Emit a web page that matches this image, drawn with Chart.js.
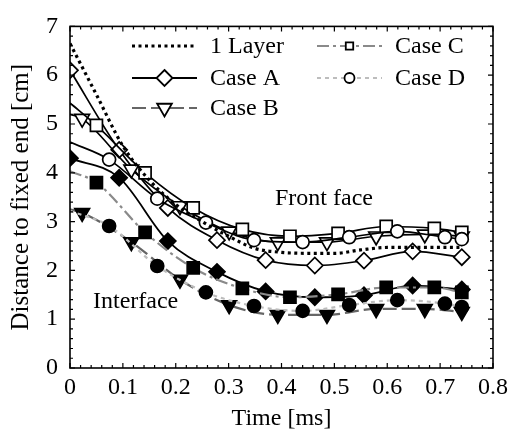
<!DOCTYPE html>
<html><head><meta charset="utf-8">
<script src="https://cdn.jsdelivr.net/npm/chart.js@4"></script>
<style>html,body{margin:0;padding:0;background:#fff}</style>
</head><body>
<canvas id="c" width="518" height="429"></canvas>
<script>
// ---- data ----
const xTickValues = [0, 0.1, 0.2, 0.3, 0.4, 0.5, 0.6, 0.7, 0.8];
const yTickValues = [0, 1, 2, 3, 4, 5, 6, 7];
const seriesNames = ['1 Layer', 'Case A', 'Case B', 'Case C', 'Case D'];

const tLayer = [0, 0.05, 0.1, 0.15, 0.2, 0.25, 0.3, 0.35, 0.4, 0.45, 0.5, 0.55, 0.6, 0.65, 0.7, 0.74];
const frontLayer = [6.65, 5.6, 4.55, 3.85, 3.35, 3.0, 2.7, 2.45, 2.37, 2.35, 2.35, 2.42, 2.47, 2.47, 2.47, 2.47];

const tA = [0, 0.093, 0.185, 0.278, 0.37, 0.463, 0.556, 0.648, 0.741];
const frontA = [6.1, 4.47, 3.28, 2.62, 2.21, 2.1, 2.2, 2.39, 2.27];
const interA = [4.3, 3.9, 2.6, 1.97, 1.57, 1.45, 1.49, 1.69, 1.61];

const tB = [0, 0.023, 0.116, 0.208, 0.301, 0.393, 0.486, 0.579, 0.671, 0.741];
const frontB = [5.2, 5.11, 4.07, 3.32, 2.8, 2.58, 2.58, 2.7, 2.74, 2.7];
const interB = [3.25, 3.18, 2.58, 1.81, 1.29, 1.09, 1.09, 1.21, 1.21, 1.15];

const tC = [0, 0.05, 0.142, 0.233, 0.326, 0.416, 0.507, 0.598, 0.689, 0.741];
const frontC = [5.43, 4.97, 4.0, 3.28, 2.84, 2.7, 2.76, 2.9, 2.86, 2.78];
const interC = [4.03, 3.8, 2.78, 2.05, 1.63, 1.45, 1.51, 1.65, 1.65, 1.55];

const tD = [0, 0.074, 0.165, 0.257, 0.348, 0.44, 0.528, 0.619, 0.709, 0.741];
const frontD = [4.63, 4.27, 3.47, 2.98, 2.62, 2.58, 2.68, 2.8, 2.68, 2.64];
const interD = [3.22, 2.91, 2.09, 1.55, 1.27, 1.17, 1.29, 1.39, 1.32, 1.25];

// ---- helpers ----
const FONT = 'Liberation Serif, Times New Roman, serif';
function pts(t, v) { return t.map((x, i) => ({ x: x, y: v[i] })); }
function radii(n, r, skipFirst) { return Array.from({ length: n }, (_, i) => (skipFirst && i === 0) ? 0 : r); }

const styles = {
  layer: { color: '#000', width: 3.2, dash: [3, 3.5] },
  A: { color: '#000', width: 1.8, dash: [] },
  B: { color: '#666', width: 2.2, dash: [14, 5] },
  C: { color: '#8a8a8a', width: 2.2, dash: [12, 4, 3, 4] },
  D: { color: '#bdbdbd', width: 2.2, dash: [4, 4] }
};

function lineDS(label, t, v, opt) {
  return Object.assign({
    label: label,
    data: pts(t, v),
    borderColor: '#000',
    borderWidth: 1.7,
    borderDash: [],
    cubicInterpolationMode: 'monotone',
    pointBorderColor: '#000',
    pointBorderWidth: 1.7,
    pointBackgroundColor: '#fff',
    pointRadius: 0,
    pointHoverRadius: 0,
    fill: false
  }, opt);
}

const datasets = [
  // interface curves (filled markers)
  lineDS('Case D interface', tD, interD, { borderColor: styles.D.color, borderWidth: styles.D.width, borderDash: styles.D.dash,
    pointStyle: 'circle', pointRadius: radii(tD.length, 6.5, true), pointBackgroundColor: '#000' }),
  lineDS('Case B interface', tB, interB, { borderColor: styles.B.color, borderWidth: styles.B.width, borderDash: styles.B.dash,
    pointStyle: 'triangle', pointRotation: 180, pointRadius: radii(tB.length, 8.5, true), pointBackgroundColor: '#000' }),
  lineDS('Case C interface', tC, interC, { borderColor: styles.C.color, borderWidth: styles.C.width, borderDash: styles.C.dash,
    pointStyle: 'rect', pointRadius: radii(tC.length, 8.5, true), pointBackgroundColor: '#000' }),
  lineDS('Case A interface', tA, interA, { borderColor: '#000', borderWidth: 1.8,
    pointStyle: 'rectRot', pointRadius: radii(tA.length, 8, false), pointBackgroundColor: '#000' }),
  // front face curves (open markers)
  lineDS('1 Layer front', tLayer, frontLayer, { borderColor: '#000', borderWidth: styles.layer.width, borderDash: styles.layer.dash }),
  lineDS('Case D front', tD, frontD, { pointStyle: 'circle', pointRadius: radii(tD.length, 6.5, true) }),
  lineDS('Case C front', tC, frontC, { pointStyle: 'rect', pointRadius: radii(tC.length, 8.5, true) }),
  lineDS('Case B front', tB, frontB, { pointStyle: 'triangle', pointRotation: 180, pointRadius: radii(tB.length, 8.5, true) }),
  lineDS('Case A front', tA, frontA, { pointStyle: 'rectRot', pointRadius: radii(tA.length, 8, false) })
];

function drawMarker(ctx, kind, x, y, r, fill) {
  ctx.save();
  ctx.setLineDash([]);
  ctx.lineWidth = 1.8;
  ctx.strokeStyle = '#000';
  ctx.fillStyle = fill;
  ctx.beginPath();
  if (kind === 'diamond') {
    ctx.moveTo(x, y - r); ctx.lineTo(x + r, y); ctx.lineTo(x, y + r); ctx.lineTo(x - r, y); ctx.closePath();
  } else if (kind === 'tri') {
    const h = r * Math.sin(Math.PI / 3);
    ctx.moveTo(x - h, y - r / 2); ctx.lineTo(x + h, y - r / 2); ctx.lineTo(x, y + r); ctx.closePath();
  } else if (kind === 'square') {
    ctx.rect(x - r * 0.62, y - r * 0.62, r * 1.24, r * 1.24);
  } else {
    ctx.arc(x, y, r, 0, Math.PI * 2);
  }
  ctx.fill(); ctx.stroke();
  ctx.restore();
}

const legendItems = [
  { name: seriesNames[0], st: styles.layer, marker: null, x1: 132, x2: 197, y: 46 },
  { name: seriesNames[1], st: styles.A, marker: 'diamond', r: 8, x1: 132, x2: 197, y: 78 },
  { name: seriesNames[2], st: styles.B, marker: 'tri', r: 8.5, x1: 132, x2: 197, y: 108 },
  { name: seriesNames[3], st: styles.C, marker: 'square', r: 6, x1: 317, x2: 382, y: 46 },
  { name: seriesNames[4], st: styles.D, marker: 'circle', r: 5, x1: 317, x2: 382, y: 78 }
];

const decor = {
  id: 'decor',
  afterDatasetsDraw(chart) {
    const ctx = chart.ctx, a = chart.chartArea;
    const xs = chart.scales.x, ys = chart.scales.y;
    ctx.save();
    // frame
    ctx.strokeStyle = '#000'; ctx.lineWidth = 1.6; ctx.setLineDash([]);
    ctx.strokeRect(a.left, a.top, a.right - a.left, a.bottom - a.top);
    // inward ticks
    ctx.lineWidth = 1.2;
    ctx.beginPath();
    for (let i = 0; i <= 40; i++) {
      const v = i * 0.02, px = xs.getPixelForValue(v), len = (i % 5 === 0) ? 5 : 3;
      ctx.moveTo(px, a.bottom); ctx.lineTo(px, a.bottom - len);
      ctx.moveTo(px, a.top); ctx.lineTo(px, a.top + len);
    }
    for (let i = 0; i <= 35; i++) {
      const v = i * 0.2, py = ys.getPixelForValue(v), len = (i % 5 === 0) ? 5 : 3;
      ctx.moveTo(a.left, py); ctx.lineTo(a.left + len, py);
      ctx.moveTo(a.right, py); ctx.lineTo(a.right - len, py);
    }
    ctx.stroke();
    // annotations
    ctx.fillStyle = '#000';
    ctx.font = '24px ' + FONT;
    ctx.textBaseline = 'middle';
    ctx.textAlign = 'left';
    ctx.fillText('Front face', 275, 199);
    ctx.fillText('Interface', 93, 302);
    // legend
    legendItems.forEach(it => {
      ctx.save();
      ctx.strokeStyle = it.st.color; ctx.lineWidth = it.st.width; ctx.setLineDash(it.st.dash);
      ctx.beginPath(); ctx.moveTo(it.x1, it.y); ctx.lineTo(it.x2, it.y); ctx.stroke();
      ctx.restore();
      if (it.marker) drawMarker(ctx, it.marker, (it.x1 + it.x2) / 2, it.y, it.r, '#fff');
      ctx.fillStyle = '#000';
      ctx.fillText(it.name, it.x2 + 13, it.y + 1);
    });
    ctx.restore();
  }
};

new Chart(document.getElementById('c'), {
  type: 'line',
  data: { datasets: datasets },
  plugins: [decor],
  options: {
    responsive: false,
    animation: false,
    devicePixelRatio: 1,
    layout: { padding: { top: 16, right: 25, left: 0, bottom: 0 } },
    plugins: { legend: { display: false }, tooltip: { enabled: false } },
    scales: {
      x: {
        type: 'linear', min: 0, max: 0.8,
        afterFit: s => { s.height = 61; },
        afterBuildTicks: s => { s.ticks = xTickValues.map(v => ({ value: v })); },
        grid: { display: false, drawTicks: false },
        border: { display: false },
        ticks: { color: '#000', padding: 5, font: { family: FONT, size: 24 }, maxRotation: 0, autoSkip: false,
          callback: v => (v === 0 ? '0' : (+v).toFixed(1)) },
        title: { display: true, text: 'Time [ms]', color: '#000', font: { family: FONT, size: 24 }, padding: { top: 0, bottom: -4 } }
      },
      y: {
        type: 'linear', min: 0, max: 7,
        afterFit: s => { s.width = 70; },
        afterBuildTicks: s => { s.ticks = yTickValues.map(v => ({ value: v })); },
        grid: { display: false, drawTicks: false },
        border: { display: false },
        ticks: { color: '#000', padding: 12, font: { family: FONT, size: 24 }, callback: v => String(v) },
        title: { display: true, text: 'Distance to fixed end [cm]', color: '#000', font: { family: FONT, size: 25 }, padding: { top: 6, bottom: 0 } }
      }
    }
  }
});
</script>
</body></html>
